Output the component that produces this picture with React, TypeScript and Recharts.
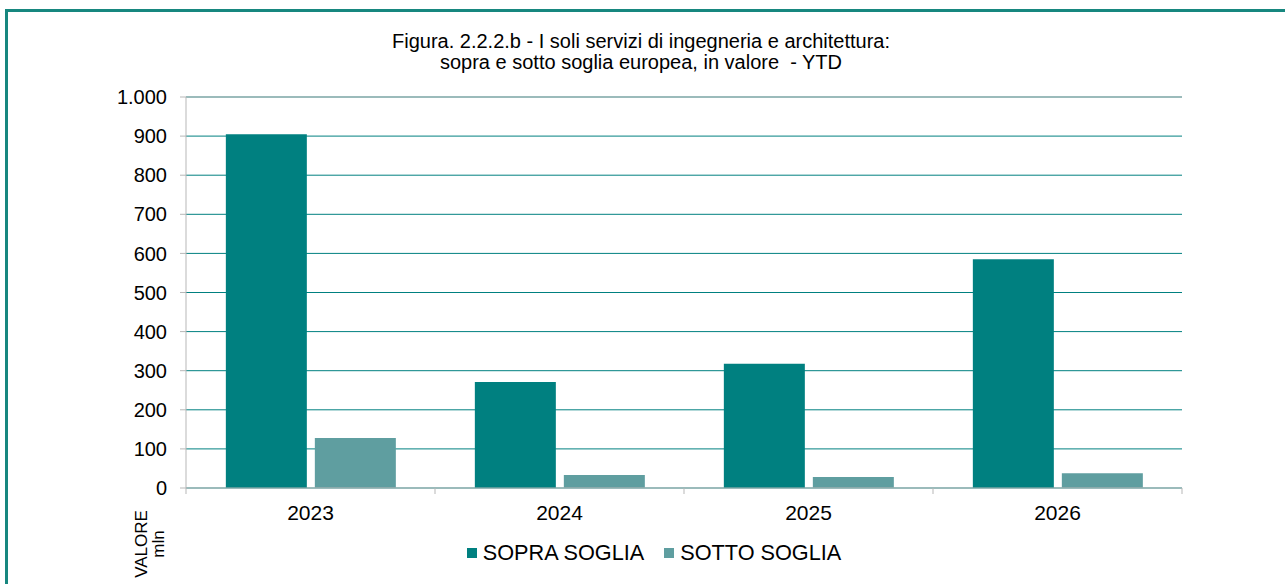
import { Bar, BarChart, CartesianGrid, Legend, ReferenceLine, XAxis, YAxis } from "recharts"

const years = ['2023', '2024', '2025', '2026']
const sopraSoglia = [905, 271, 318, 585]
const sottoSoglia = [128, 33, 28, 38]
const yTicks = [0, 100, 200, 300, 400, 500, 600, 700, 800, 900, 1000]

const data = years.map((year, i) => ({
    year,
    sopra: sopraSoglia[i],
    sotto: sottoSoglia[i],
}))

const FONT = '"Liberation Sans", Arial, sans-serif'
const AXIS_GRAY = '#b7b7b7'

// thousands with a dot, as in the italian original
const fmt = (v: number) => v.toLocaleString('de-DE')

const XTick = (props: any) => {
    const { x, y, payload, index, visibleTicksCount } = props
    const half = payload.offset || 124.6
    const top = y - 17
    return (
        <g>
            <line x1={x - half} x2={x - half} y1={top} y2={top + 6} stroke={AXIS_GRAY} />
            {index === visibleTicksCount - 1 && (
                <line x1={x + half} x2={x + half} y1={top} y2={top + 6} stroke={AXIS_GRAY} />
            )}
            <text x={x} y={y} dy="0.71em" textAnchor="middle" fill="#000" fontSize={21} fontFamily={FONT}>
                {payload.value}
            </text>
        </g>
    )
}

const LegendContent = (props: any) => {
    const { payload } = props
    return (
        <div style={{ display: 'flex', justifyContent: 'center', gap: 20, fontFamily: FONT, fontSize: 21.7, color: '#000' }}>
            {payload.map((item: any) => (
                <div key={item.value} style={{ display: 'flex', alignItems: 'center' }}>
                    <span style={{ width: 10, height: 10, background: item.color, marginRight: 6, display: 'inline-block' }} />
                    <span>{item.value}</span>
                </div>
            ))}
        </div>
    )
}

const App = () => {
    return (
        <div style={{ position: 'absolute', left: 0, top: 0, width: 1285, height: 584, background: '#fff', overflow: 'hidden', fontFamily: FONT }}>
            <div style={{ position: 'absolute', left: 5, top: 9, width: 1300, height: 600, border: '3px solid #17877f', boxSizing: 'border-box' }} />
            <div style={{ position: 'absolute', left: 291, top: 31, width: 700, textAlign: 'center', fontSize: 20, lineHeight: '21px', color: '#000' }}>
                Figura. 2.2.2.b - I soli servizi di ingegneria e architettura:<br />
                sopra e sotto soglia europea, in valore&nbsp; - YTD
            </div>
            <div style={{ position: 'absolute', left: 150, top: 544, transform: 'translate(-50%, -50%) rotate(-90deg)', textAlign: 'center', fontSize: 17, lineHeight: '17px', color: '#000', whiteSpace: 'nowrap' }}>
                VALORE<br />mln
            </div>
            <BarChart
                width={1285}
                height={584}
                data={data}
                barCategoryGap="16%"
                barGap={8}
                margin={{ top: 97, right: 103, left: 0, bottom: 66 }}
                style={{ position: 'absolute', left: 0, top: 0 }}
            >
                <CartesianGrid vertical={false} stroke="#008080" />
                <XAxis
                    dataKey="year"
                    height={30}
                    tickLine={false}
                    tickSize={0}
                    tickMargin={17}
                    axisLine={{ stroke: AXIS_GRAY }}
                    tick={<XTick />}
                    interval={0}
                />
                <YAxis
                    width={186}
                    domain={[0, 1000]}
                    ticks={yTicks}
                    interval={0}
                    tickFormatter={fmt}
                    tickSize={6}
                    tickMargin={13}
                    axisLine={{ stroke: AXIS_GRAY }}
                    tickLine={{ stroke: AXIS_GRAY }}
                    tick={{ fill: '#000', fontSize: 20, fontFamily: FONT }}
                />
                <YAxis
                    yAxisId="right"
                    orientation="right"
                    width={0}
                    tick={false}
                    tickLine={false}
                    axisLine={{ stroke: AXIS_GRAY }}
                />
                <ReferenceLine y={1000} stroke={AXIS_GRAY} />
                <Legend
                    verticalAlign="middle"
                    align="center"
                    layout="horizontal"
                    content={<LegendContent />}
                    wrapperStyle={{ top: 540, left: 0, width: 1308 }}
                />
                <Bar dataKey="sopra" name="SOPRA SOGLIA" fill="#008080" isAnimationActive={false} />
                <Bar dataKey="sotto" name="SOTTO SOGLIA" fill="#5f9ea0" isAnimationActive={false} />
            </BarChart>
        </div>
    )
}

export default App
